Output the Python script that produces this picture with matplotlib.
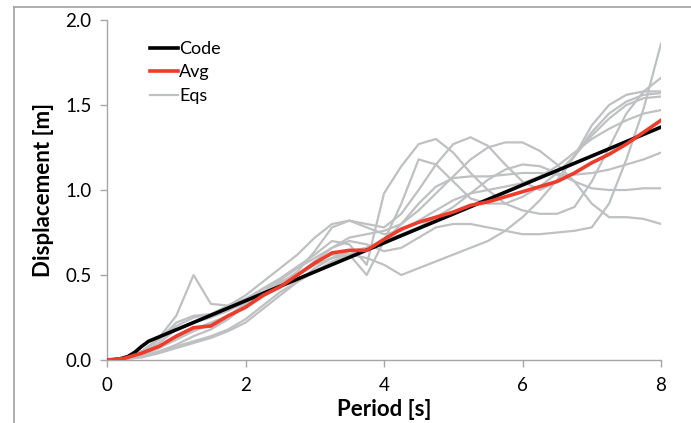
import matplotlib
matplotlib.use("Agg")
import matplotlib.pyplot as plt
from matplotlib.lines import Line2D
import numpy as np

plt.rcParams['font.family'] = ['Lato', 'DejaVu Sans']

period = [0, .25, .5, .75, 1.0, 1.25, 1.5, 1.75, 2.0, 2.25, 2.5, 2.75, 3.0, 3.25, 3.5, 3.75,
          4.0, 4.25, 4.5, 4.75, 5.0, 5.25, 5.5, 5.75, 6.0, 6.25, 6.5, 6.75, 7.0, 7.25, 7.5, 7.75, 8.0]

code_t = [0, 0.1, 0.2, 0.3, 0.4, 0.5, 0.6, 8.0]
code_d = [0, 0.002, 0.008, 0.02, 0.045, 0.08, 0.11, 1.37]

avg = [0, .01, .04, .08, .14, .19, .20, .26, .31, .38, .43, .50, .57, .63, .645, .645,
       .71, .77, .81, .84, .87, .91, .93, .96, .99, 1.02, 1.05, 1.10, 1.16, 1.21, 1.27, 1.34, 1.41]

eqs = [
    [0, .01, .05, .13, .26, .50, .33, .32, .36, .42, .46, .50, .58, .66, .70, .68,
     .64, .66, .72, .78, .80, .80, .78, .76, .74, .74, .75, .76, .78, .92, 1.18, 1.48, 1.86],
    [0, .01, .04, .10, .18, .22, .25, .29, .34, .40, .45, .50, .58, .62, .62, .50,
     .70, .92, 1.18, 1.15, 1.05, .95, .92, .92, .96, 1.02, 1.10, 1.20, 1.32, 1.42, 1.50, 1.54, 1.55],
    [0, .01, .03, .07, .12, .17, .21, .26, .33, .42, .48, .55, .62, .70, .68, .56,
     .98, 1.14, 1.27, 1.30, 1.22, 1.10, 1.00, .92, .88, .86, .86, .90, 1.05, 1.25, 1.45, 1.58, 1.66],
    [0, .005, .02, .05, .09, .14, .18, .24, .32, .40, .47, .54, .60, .66, .72, .74,
     .76, .80, .88, .98, 1.08, 1.18, 1.25, 1.28, 1.28, 1.23, 1.15, 1.05, .92, .84, .84, .83, .80],
    [0, .01, .05, .12, .22, .26, .27, .30, .34, .38, .45, .52, .64, .78, .82, .80,
     .78, .86, 1.00, 1.15, 1.27, 1.31, 1.26, 1.15, 1.05, 1.00, 1.05, 1.20, 1.38, 1.50, 1.56, 1.58, 1.58],
    [0, .01, .03, .07, .13, .18, .22, .26, .31, .37, .44, .50, .56, .60, .64, .66,
     .70, .80, .92, 1.02, 1.07, 1.08, 1.08, 1.09, 1.10, 1.10, 1.09, 1.09, 1.10, 1.12, 1.15, 1.18, 1.22],
    [0, .005, .02, .05, .08, .11, .14, .18, .24, .32, .40, .46, .52, .58, .62, .66,
     .70, .74, .78, .84, .90, .98, 1.06, 1.12, 1.15, 1.14, 1.10, 1.05, 1.01, 1.00, 1.00, 1.01, 1.01],
    [0, .005, .015, .04, .07, .10, .13, .17, .22, .30, .38, .46, .54, .60, .62, .60,
     .56, .50, .54, .58, .62, .66, .70, .76, .84, .94, 1.06, 1.20, 1.34, 1.45, 1.52, 1.56, 1.57],
    [0, .01, .05, .12, .20, .25, .27, .32, .38, .46, .54, .62, .72, .80, .82, .78,
     .74, .76, .82, .88, .94, .98, 1.0, 1.02, 1.04, 1.08, 1.14, 1.22, 1.30, 1.36, 1.41, 1.45, 1.47],
]

xticks = [0, 2, 4, 6, 8]
yticks = [0.0, 0.5, 1.0, 1.5, 2.0]
ytick_labels = ["0.0", "0.5", "1.0", "1.5", "2.0"]

grey = '#BFC0C2'
red = '#EE3B2A'
axc = '#A6A6A6'

fig = plt.figure(figsize=(6.91, 4.23), dpi=100)
ax = fig.add_axes([107/691, 63/423, 554/691, 340/423])

for i, e in enumerate(eqs):
    ax.plot(period, e, color=grey, lw=1.6, label='Eqs' if i == 0 else None, zorder=1)
ax.plot(code_t, code_d, color='black', lw=2.6, label='Code', zorder=3)
ax.plot(period, avg, color=red, lw=2.6, label='Avg', zorder=4)

ax.set_xlim(0, 8)
ax.set_ylim(0, 2.0)
ax.set_xticks(xticks)
ax.set_yticks(yticks)
ax.set_yticklabels(ytick_labels)
for s in ['top', 'right']:
    ax.spines[s].set_visible(False)
for s in ['left', 'bottom']:
    ax.spines[s].set_color(axc)
    ax.spines[s].set_linewidth(1.0)
ax.tick_params(direction='out', length=5, width=1.0, color=axc, labelsize=13.5, labelcolor='black')
ax.tick_params(axis='y', pad=6)
ax.tick_params(axis='x', pad=7)
ax.set_xlabel('Period [s]', fontsize=16, fontweight='bold', labelpad=4)
ax.set_ylabel('Displacement [m]', fontsize=16, fontweight='bold', labelpad=8)

h, l = ax.get_legend_handles_labels()
order = [l.index('Code'), l.index('Avg'), l.index('Eqs')]
ax.legend([h[k] for k in order], [l[k] for k in order], loc='upper left',
          bbox_to_anchor=(0.065, 0.96), frameon=False, fontsize=13,
          handlelength=1.55, handletextpad=0.05, labelspacing=0.42, borderaxespad=0)

fig.add_artist(Line2D([14/691, 1.0], [1 - 7/423, 1 - 7/423], color='#A0A0A0', lw=1.2, transform=fig.transFigure))
fig.add_artist(Line2D([14/691, 14/691], [0, 1 - 7/423], color='#A0A0A0', lw=1.2, transform=fig.transFigure))

fig.savefig('out.png', dpi=100)
